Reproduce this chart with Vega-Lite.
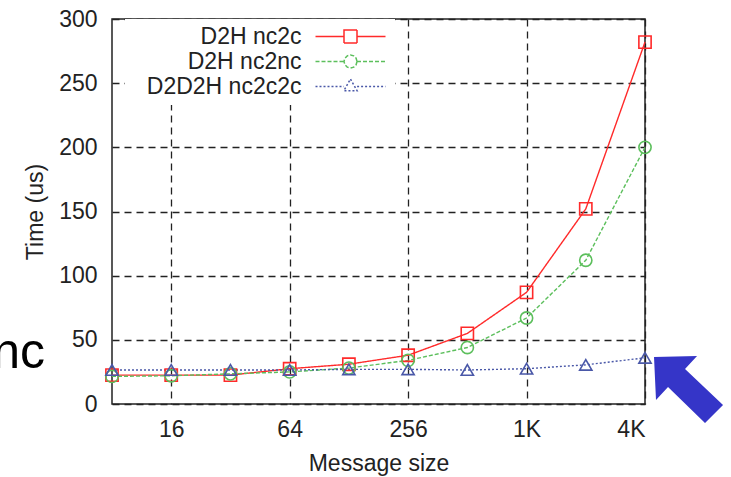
{
  "$schema": "https://vega.github.io/schema/vega-lite/v6.json",
  "width": 533,
  "height": 385,
  "autosize": {"type": "none"},
  "padding": {"left": 112, "top": 19, "right": 86, "bottom": 73},
  "config": {
    "font": "Liberation Sans",
    "view": {"stroke": "#222222", "strokeWidth": 1.5},
    "axis": {
      "grid": true,
      "gridColor": "#222222",
      "gridDash": [7, 5],
      "gridWidth": 1.3,
      "gridOpacity": 1,
      "ticks": false,
      "domain": false,
      "labelFont": "Liberation Sans",
      "labelFontSize": 23,
      "labelColor": "#222222",
      "titleFont": "Liberation Sans",
      "titleFontSize": 23,
      "titleFontWeight": "normal",
      "titleColor": "#222222"
    },
    "legend": {
      "labelFont": "Liberation Sans",
      "labelFontSize": 23,
      "labelColor": "#222222",
      "symbolSize": 400,
      "symbolStrokeWidth": 1.5,
      "rowPadding": 1,
      "padding": 6
    }
  },
  "data": {
    "values": [
      {"size": 8, "series": "D2H nc2c", "time": 22.5},
      {"size": 16, "series": "D2H nc2c", "time": 22.5},
      {"size": 32, "series": "D2H nc2c", "time": 22.5},
      {"size": 64, "series": "D2H nc2c", "time": 27.5},
      {"size": 128, "series": "D2H nc2c", "time": 31},
      {"size": 256, "series": "D2H nc2c", "time": 38},
      {"size": 512, "series": "D2H nc2c", "time": 55},
      {"size": 1024, "series": "D2H nc2c", "time": 87},
      {"size": 2048, "series": "D2H nc2c", "time": 152},
      {"size": 4096, "series": "D2H nc2c", "time": 282},
      {"size": 8, "series": "D2H nc2nc", "time": 21.5},
      {"size": 16, "series": "D2H nc2nc", "time": 22},
      {"size": 32, "series": "D2H nc2nc", "time": 23.5},
      {"size": 64, "series": "D2H nc2nc", "time": 25},
      {"size": 128, "series": "D2H nc2nc", "time": 28},
      {"size": 256, "series": "D2H nc2nc", "time": 34},
      {"size": 512, "series": "D2H nc2nc", "time": 44},
      {"size": 1024, "series": "D2H nc2nc", "time": 67},
      {"size": 2048, "series": "D2H nc2nc", "time": 112},
      {"size": 4096, "series": "D2H nc2nc", "time": 200},
      {"size": 8, "series": "D2D2H nc2c2c", "time": 26.5},
      {"size": 16, "series": "D2D2H nc2c2c", "time": 26.5},
      {"size": 32, "series": "D2D2H nc2c2c", "time": 26.5},
      {"size": 64, "series": "D2D2H nc2c2c", "time": 26.5},
      {"size": 128, "series": "D2D2H nc2c2c", "time": 27},
      {"size": 256, "series": "D2D2H nc2c2c", "time": 27},
      {"size": 512, "series": "D2D2H nc2c2c", "time": 26.5},
      {"size": 1024, "series": "D2D2H nc2c2c", "time": 27.5},
      {"size": 2048, "series": "D2D2H nc2c2c", "time": 30.5},
      {"size": 4096, "series": "D2D2H nc2c2c", "time": 36}
    ]
  },
  "layer": [
    {
      "mark": {"type": "line", "strokeWidth": 1.4},
      "encoding": {
        "x": {
          "field": "size",
          "type": "quantitative",
          "scale": {"type": "log", "base": 2, "domain": [8, 4096], "nice": false},
          "axis": {
            "title": "Message size",
            "values": [16, 64, 256, 1024, 4096],
            "labelExpr": "datum.value >= 1024 ? (datum.value / 1024) + 'K' : datum.value",
            "labelPadding": 14,
            "titlePadding": 11
          }
        },
        "y": {
          "field": "time",
          "type": "quantitative",
          "scale": {"domain": [0, 300], "nice": false},
          "axis": {
            "title": "Time (us)",
            "values": [0, 50, 100, 150, 200, 250, 300],
            "labelPadding": 15,
            "titlePadding": 11
          }
        },
        "color": {
          "field": "series",
          "type": "nominal",
          "scale": {
            "domain": ["D2H nc2c", "D2H nc2nc", "D2D2H nc2c2c"],
            "range": ["#ff2a2a", "#5cbf5c", "#4a58a8"]
          },
          "legend": {
            "title": null,
            "orient": "none",
            "legendX": 13,
            "legendY": 0,
            "labelAlign": "right",
            "labelOffset": -60.5,
            "symbolOffset": 208,
            "fillColor": "white",
            "encode": {
              "symbols": {
                "update": {
                  "shape": {"signal": "datum.value === 'D2H nc2c' ? 'M -3.5 0 L -0.65 0 M 0.65 0 L 3.5 0 M -0.65 -0.65 L 0.65 -0.65 L 0.65 0.65 L -0.65 0.65 Z' : datum.value === 'D2H nc2nc' ? 'M -3.5 0 L -0.65 0 M 0.65 0 L 3.5 0 M 0.65 0 L 0.563 0.325 L 0.325 0.563 L 0 0.65 L -0.325 0.563 L -0.563 0.325 L -0.65 0 L -0.563 -0.325 L -0.325 -0.563 L 0 -0.65 L 0.325 -0.563 L 0.563 -0.325 Z' : 'M -3.5 0 L -0.66 0 M 0.66 0 L 3.5 0 M 0 -0.74 L 0.66 0.42 L -0.66 0.42 Z'"},
                  "fill": {"value": "transparent"}
                }
              }
            }
          }
        },
        "strokeDash": {
          "field": "series",
          "type": "nominal",
          "scale": {
            "domain": ["D2H nc2c", "D2H nc2nc", "D2D2H nc2c2c"],
            "range": [[1, 0], [4, 2], [2, 2]]
          },
          "legend": {
            "title": null,
            "orient": "none",
            "legendX": 13,
            "legendY": 0,
            "labelAlign": "right",
            "labelOffset": -60.5,
            "symbolOffset": 208,
            "fillColor": "white"
          }
        }
      }
    },
    {
      "transform": [{"filter": "datum.series === 'D2H nc2c'"}],
      "mark": {"type": "point", "shape": "square", "filled": false, "size": 150, "strokeWidth": 1.6, "opacity": 1},
      "encoding": {
        "x": {"field": "size", "type": "quantitative"},
        "y": {"field": "time", "type": "quantitative"},
        "color": {"field": "series", "type": "nominal"}
      }
    },
    {
      "transform": [{"filter": "datum.series === 'D2H nc2nc'"}],
      "mark": {"type": "point", "shape": "circle", "filled": false, "size": 150, "strokeWidth": 1.6, "opacity": 1},
      "encoding": {
        "x": {"field": "size", "type": "quantitative"},
        "y": {"field": "time", "type": "quantitative"},
        "color": {"field": "series", "type": "nominal"}
      }
    },
    {
      "transform": [{"filter": "datum.series === 'D2D2H nc2c2c'"}],
      "mark": {"type": "point", "shape": "triangle-up", "filled": false, "size": 150, "strokeWidth": 1.6, "opacity": 1},
      "encoding": {
        "x": {"field": "size", "type": "quantitative"},
        "y": {"field": "time", "type": "quantitative"},
        "color": {"field": "series", "type": "nominal"}
      }
    },
    {
      "data": {"values": [{}]},
      "mark": {"type": "text", "text": "nc", "fontSize": 50, "align": "right", "baseline": "alphabetic", "font": "Liberation Sans", "color": "#000000"},
      "encoding": {
        "x": {"datum": 3.65, "type": "quantitative"},
        "y": {"datum": 28, "type": "quantitative"}
      }
    },
    {
      "data": {"values": [{}]},
      "mark": {
        "type": "point",
        "shape": "M -0.986 -0.929 L 0.243 -0.957 L -0.1 -0.586 L 0.986 0.443 L 0.471 0.957 L -0.586 -0.071 L -0.929 0.3 Z",
        "size": 4900,
        "filled": true,
        "color": "#3535c8",
        "opacity": 1
      },
      "encoding": {
        "x": {"datum": 6817, "type": "quantitative"},
        "y": {"datum": 11.3, "type": "quantitative"}
      }
    }
  ]
}
